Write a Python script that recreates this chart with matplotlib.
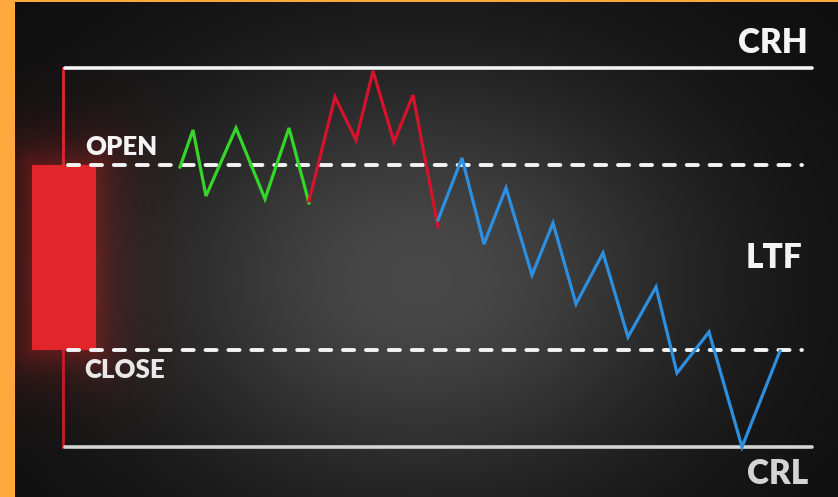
import matplotlib
matplotlib.use('Agg')
import matplotlib.pyplot as plt
import numpy as np

ORANGE = '#FDA93D'; WHITE = '#F4F4F4'; GREY = '#D4D4D4'
GREEN = '#35D62A'; RED = '#D3142B'; BLUE = '#2C8FE0'; CANDLE = '#E0262A'
plt.rcParams['font.family'] = ['Lato', 'DejaVu Sans']
plt.rcParams['lines.scale_dashes'] = False

# levels (drawing units, y grows downwards)
crh, open_lvl, close_lvl, crl = 68, 165, 350, 447
level_names = ['CRH', 'OPEN', 'CLOSE', 'CRL']

# lower-timeframe path, split into three legs
green_x = [180, 193, 206, 236, 265, 289, 309]
green_y = [167, 130, 196, 128, 199, 128, 203]
red_x = [309, 335, 356, 373, 394, 413, 438]
red_y = [201, 97, 140, 71, 142, 95, 227]
blue_x = [438, 462, 484, 506, 532, 553, 576, 603, 628, 656, 677, 709, 742, 780]
blue_y = [220, 158, 244, 188, 275, 223, 304, 253, 337, 287, 373, 332, 447, 351]

W, H = 838, 497
fig = plt.figure(figsize=(W/100, H/100), dpi=100)
ax = fig.add_axes([0, 0, 1, 1])
ax.set_xlim(0, W); ax.set_ylim(H, 0); ax.axis('off')

# background: dark radial gradient + red glow around the candle + orange frame
yy, xx = np.mgrid[0:H, 0:W] + 0.5
d = np.sqrt(((xx - 420) / 430) ** 2 + ((yy - 280) / 330) ** 2)
v = 0.055 + 0.23 * np.exp(-2.3 * d ** 2)
img = np.dstack([v, v, v])
cx0, cx1, cy0, cy1 = 32, 96, open_lvl, close_lvl
dx = np.maximum(np.maximum(cx0 - xx, xx - cx1), 0)
dy = np.maximum(np.maximum(cy0 - yy, yy - cy1), 0)
glow = 0.28 * np.exp(-np.hypot(dx, dy) / 26)
img[..., 0] += glow; img[..., 1] += glow * 0.06; img[..., 2] += glow * 0.06
img = np.clip(img, 0, 1)
orange = np.array([0xFD, 0xA9, 0x3D]) / 255
img[:, :15] = orange
img[:2, :] = orange
ax.imshow(img, extent=(0, W, H, 0), aspect='auto', zorder=0, interpolation='bilinear')

# candle
ax.plot([63, 63], [crh, open_lvl], color=CANDLE, lw=2, zorder=2)
ax.plot([63, 63], [close_lvl, crl], color='#C81E22', lw=2, zorder=2)
ax.fill_between([cx0, cx1], open_lvl, close_lvl, color=CANDLE, lw=0, zorder=2)

# levels
ax.plot([65, 812], [crh, crh], color=WHITE, lw=2.6, solid_capstyle='round', zorder=3)
ax.plot([65, 812], [crl, crl], color=GREY, lw=2.6, solid_capstyle='round', zorder=3)
for lvl in (open_lvl, close_lvl):
    ax.plot([68, 802], [lvl, lvl], color=WHITE, lw=2.8, dashes=(8, 8.5),
            dash_capstyle='round', zorder=3)

# zigzag
for xs, ys, c in ((green_x, green_y, GREEN), (red_x, red_y, RED), (blue_x, blue_y, BLUE)):
    ax.plot(xs, ys, color=c, lw=2.3, solid_joinstyle='miter', zorder=4)

# labels
kw = dict(fontweight='heavy', zorder=5)
ax.text(808, 43, level_names[0], color=WHITE, fontsize=24, ha='right', va='center', **kw)
ax.text(85, 147, level_names[1], color=WHITE, fontsize=18.5, ha='left', va='center', **kw)
ax.text(84, 370, level_names[2], color='#E8E8E8', fontsize=18.5, ha='left', va='center', **kw)
ax.text(808, 474, level_names[3], color=GREY, fontsize=24, ha='right', va='center', **kw)
ax.text(802, 258, 'LTF', color=WHITE, fontsize=24, ha='right', va='center', **kw)

fig.savefig('out.png', dpi=100)
